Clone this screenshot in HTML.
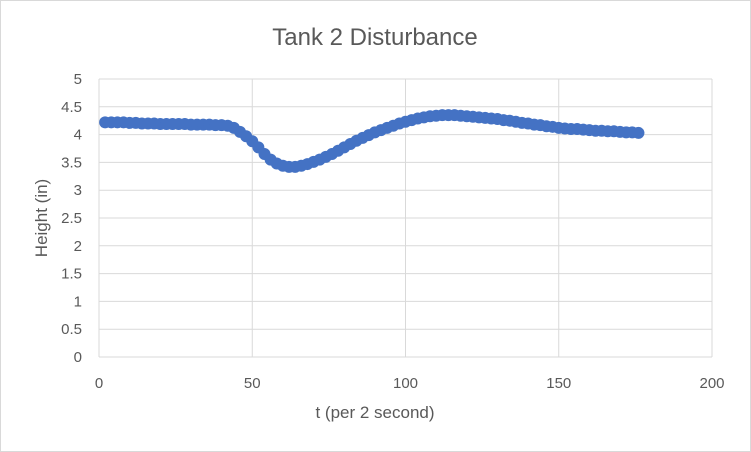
<!DOCTYPE html>
<html><head><meta charset="utf-8"><style>
body{margin:0;background:#fff;}
svg{display:block;font-family:"Liberation Sans",sans-serif;}
</style></head><body>
<svg id="chart" width="751" height="452">
<rect x="0.5" y="0.5" width="750" height="451" fill="#fff" stroke="#d9d9d9"/>
<text x="375" y="45" text-anchor="middle" font-size="24" fill="#595959">Tank 2 Disturbance</text>
<g id="grid"></g><g id="xt"></g><g id="yt"></g><g id="series"></g>
<text x="375" y="418" text-anchor="middle" font-size="17" fill="#595959">t (per 2 second)</text>
<text transform="translate(47,218) rotate(-90)" text-anchor="middle" font-size="17" fill="#595959">Height (in)</text>
</svg>
<script>
const xTicks=[0,50,100,150,200];
const yTicks=[0,0.5,1,1.5,2,2.5,3,3.5,4,4.5,5];
const tValues=[2,4,6,8,10,12,14,16,18,20,22,24,26,28,30,32,34,36,38,40,42,44,46,48,50,52,54,56,58,60,62,64,66,68,70,72,74,76,78,80,82,84,86,88,90,92,94,96,98,100,102,104,106,108,110,112,114,116,118,120,122,124,126,128,130,132,134,136,138,140,142,144,146,148,150,152,154,156,158,160,162,164,166,168,170,172,174,176];
const heightValues=[4.22,4.22,4.22,4.22,4.21,4.21,4.2,4.2,4.2,4.19,4.19,4.19,4.19,4.19,4.18,4.18,4.18,4.18,4.17,4.17,4.16,4.12,4.05,3.97,3.88,3.77,3.65,3.55,3.48,3.44,3.42,3.42,3.44,3.47,3.51,3.55,3.6,3.65,3.71,3.77,3.83,3.89,3.94,3.99,4.04,4.08,4.12,4.16,4.2,4.23,4.26,4.29,4.31,4.33,4.34,4.35,4.35,4.35,4.34,4.33,4.32,4.31,4.3,4.29,4.28,4.26,4.25,4.23,4.21,4.2,4.18,4.17,4.15,4.14,4.12,4.11,4.1,4.1,4.09,4.08,4.07,4.07,4.06,4.06,4.05,4.04,4.04,4.03];
const X=v=>99+v*(712-99)/200, Y=v=>357-v*(357-79)/5;
const ns='http://www.w3.org/2000/svg';
function mk(p,t,a){const e=document.createElementNS(ns,t);for(const k in a)e.setAttribute(k,a[k]);document.getElementById(p).appendChild(e);return e;}
xTicks.forEach(v=>{
 const l=mk('grid','line',{x1:X(v),x2:X(v),y1:79,y2:357,stroke:'#d9d9d9'});
 
 
 const t=mk('xt','text',{x:X(v),y:388,'text-anchor':'middle','font-size':15,fill:'#595959'});t.textContent=v;
 
 
});
yTicks.forEach(v=>{
 const l=mk('grid','line',{x1:99,x2:712,y1:Y(v),y2:Y(v),stroke:'#d9d9d9'});
 
 
 const t=mk('yt','text',{x:82,y:Y(v)+5,'text-anchor':'end','font-size':15,fill:'#595959'});t.textContent=v;
 
 
});
tValues.forEach((t,i)=>{
 const c=mk('series','circle',{cx:X(t),cy:Y(heightValues[i]),r:6,fill:'#4472c4'});
 
 
});
</script>
</body></html>
